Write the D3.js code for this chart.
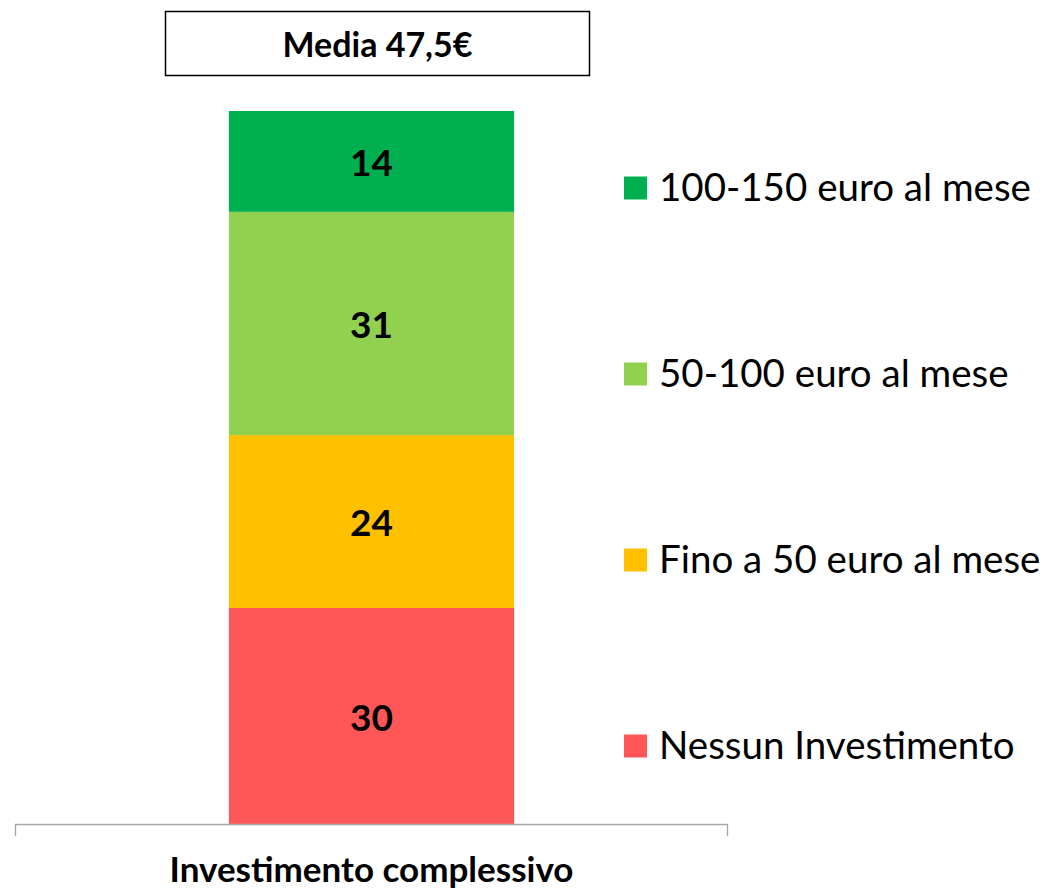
<!DOCTYPE html>
<html>
<head>
<meta charset="utf-8">
<script src="https://cdn.jsdelivr.net/npm/d3@7"></script>
<style>
body { margin: 0; background: #fff; }
</style>
</head>
<body>
<svg width="1054" height="889"></svg>
<script>
var svg = d3.select('svg');

// categories, bottom to top
var categories = ["Nessun Investimento", "Fino a 50 euro al mese", "50-100 euro al mese", "100-150 euro al mese"]
var values = [30, 24, 31, 14]
var colors = ["#FF5757", "#FFC000", "#92D050", "#00B050"]
var barLabel = "Investimento complessivo"
var mediaLabel = "Media 47,5€"

var font = "Lato, 'Open Sans', sans-serif"

// stack
var stacked = []
var acc = 0
values.forEach(function(v, i) {
	stacked.push({name: categories[i], value: v, y0: acc, y1: acc + v, color: colors[i]})
	acc += v
})

var x = d3.scaleBand().domain([barLabel]).range([15, 728]).paddingInner(0).paddingOuter(0.75)
var y = d3.scaleLinear().domain([0, d3.sum(values)]).range([824, 111])

// bars
svg.selectAll('rect.seg')
	.data(stacked)
	.enter()
	.append('rect')
	.attr('class', 'seg')
	.attr('x', x(barLabel))
	.attr('width', x.bandwidth())
	.attr('y', function(d) { return y(d.y1) })
	.attr('height', function(d) { return y(d.y0) - y(d.y1) })
	.attr('fill', function(d) { return d.color })

// value labels
svg.selectAll('text.val')
	.data(stacked)
	.enter()
	.append('text')
	.attr('class', 'val')
	.attr('x', x(barLabel) + x.bandwidth() / 2)
	.attr('y', function(d) { return (y(d.y0) + y(d.y1)) / 2 + 2 })
	.attr('dy', '0.35em')
	.attr('text-anchor', 'middle')
	.attr('font-family', font)
	.attr('font-weight', 'bold')
	.attr('font-size', 37)
	.text(function(d) { return d.value })

// x axis
var axis = svg.append('g').attr('transform', 'translate(0,824)')
	.call(d3.axisBottom(x).tickSize(0).tickFormat(''))
axis.select('.domain').remove()
axis.append('path')
	.attr('d', 'M15.5,12V0.5H727.5V12')
	.attr('fill', 'none')
	.attr('stroke', '#a6a6a6')
	.attr('stroke-width', 1.3)
svg.append('text')
	.attr('x', x(barLabel) + x.bandwidth() / 2)
	.attr('y', 882)
	.attr('text-anchor', 'middle')
	.attr('font-family', font)
	.attr('font-weight', 'bold')
	.attr('font-size', 35)
	.text(barLabel)

// media box
svg.append('rect')
	.attr('x', 165.5).attr('y', 11.5)
	.attr('width', 424).attr('height', 64)
	.attr('fill', 'white')
	.attr('stroke', 'black')
	.attr('stroke-width', 1.5)
svg.append('text')
	.attr('x', 377.5)
	.attr('y', 45)
	.attr('dy', '0.35em')
	.attr('text-anchor', 'middle')
	.attr('font-family', font)
	.attr('font-weight', 'bold')
	.attr('font-size', 34)
	.text(mediaLabel)

// legend, top to bottom
var legendY = d3.scalePoint().domain(categories.slice().reverse()).range([188, 746])
var legend = svg.selectAll('g.leg')
	.data(stacked)
	.enter()
	.append('g')
	.attr('class', 'leg')
	.attr('transform', function(d) { return 'translate(624,' + legendY(d.name) + ')' })
legend.append('rect')
	.attr('x', 0).attr('y', -11.5)
	.attr('width', 23).attr('height', 23)
	.attr('fill', function(d) { return d.color })
legend.append('text')
	.attr('x', 35)
	.attr('dy', '0.35em')
	.attr('font-family', font)
	.attr('font-size', 38.5)
	.attr('fill', '#000')
	.text(function(d) { return d.name })
</script>
</body>
</html>
